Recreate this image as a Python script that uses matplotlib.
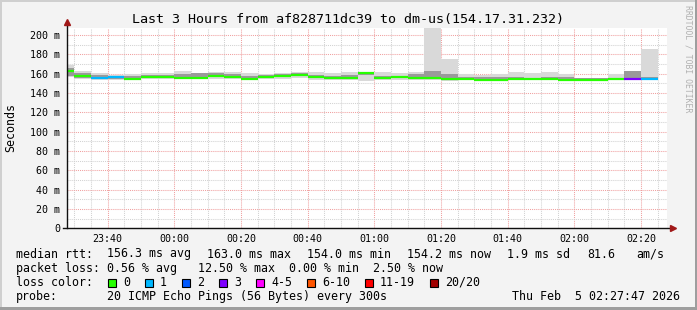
import numpy as np
import pandas as pd
import matplotlib
matplotlib.use('Agg')
from matplotlib import pyplot as plt
from matplotlib import ticker
import matplotlib.dates as mdates
import matplotlib.patches as mpatches
import matplotlib.lines as mlines

plt.rcParams['font.family'] = 'DejaVu Sans Mono'

# 5 minute bins (start of each step), last 3 hours
bin_start = pd.date_range('2026-02-04 23:25', periods=36, freq='5min')

# median rtt per step (ms)
median_ms = [163.0, 157.8, 155.4, 156.5, 154.4, 156.5, 156.5, 155.9, 155.9, 157.8,
             156.9, 154.4, 156.5, 157.8, 158.7, 156.5, 155.9, 155.9, 161.0, 155.0,
             156.5, 155.9, 155.9, 154.8, 154.8, 153.9, 153.9, 154.8, 154.8, 154.8,
             153.9, 153.9, 153.9, 154.8, 154.8, 154.2]
# lost pings out of 20
loss_pings = [0, 0, 1, 1, 0, 0, 0, 0, 0, 0,
              0, 0, 0, 0, 0, 0, 0, 0, 0, 0,
              0, 0, 0, 0, 0, 0, 0, 0, 0, 0,
              0, 0, 0, 0, 3, 1]
# smoke: full spread of the pings
smoke_lo = [156.5, 154.8, 153.4, 153.4, 153.4, 154.8, 154.8, 154.0, 154.0, 154.5,
            154.0, 153.2, 154.0, 154.5, 155.0, 153.8, 153.5, 153.4, 152.3, 153.4,
            153.4, 153.5, 153.0, 152.5, 153.4, 152.0, 153.0, 154.0, 154.0, 153.8,
            152.8, 153.4, 153.0, 154.0, 154.0, 153.0]
smoke_hi = [169.0, 163.0, 160.4, 158.6, 159.6, 160.4, 160.5, 163.0, 161.0, 161.5,
            162.0, 161.0, 160.0, 161.0, 162.0, 161.5, 160.5, 161.4, 162.0, 161.4,
            160.4, 161.4, 208.0, 175.0, 159.6, 158.6, 159.6, 161.4, 160.4, 162.0,
            159.6, 155.9, 155.5, 159.6, 162.7, 185.5]
# smoke: inner (darker) part of the spread
core_lo = [158.0, 155.8, 154.2, 154.6, 153.8, 155.6, 155.6, 154.8, 154.8, 156.4,
           155.6, 153.8, 155.4, 156.4, 157.4, 155.4, 154.8, 154.6, 158.5, 154.2,
           155.6, 154.8, 154.8, 154.0, 154.0, 153.2, 153.4, 154.2, 154.2, 154.0,
           153.4, 153.6, 153.4, 154.2, 154.3, 153.6]
core_hi = [166.0, 161.0, 158.5, 157.5, 158.0, 158.5, 159.0, 160.0, 160.5, 161.0,
           159.5, 158.0, 158.5, 159.5, 161.0, 158.5, 158.0, 159.0, 162.0, 157.5,
           158.0, 159.5, 163.0, 160.0, 157.0, 156.5, 157.0, 156.5, 156.0, 157.0,
           156.5, 155.0, 155.0, 156.0, 162.7, 157.0]

loss_labels = ['0', '1', '2', '3', '4-5', '6-10', '11-19', '20/20']
loss_limits = [0, 1, 2, 3, 5, 10, 19, 20]
loss_colors = ['#26ff00', '#00b8ff', '#0059ff', '#7e00ff', '#ff00ff', '#ff5500', '#ff0000', '#a10000']

title = 'Last 3 Hours from af828711dc39 to dm-us(154.17.31.232)'
rtt_line = [('median rtt:', 16), ('156.3 ms avg', 107), ('163.0 ms max', 207), ('154.0 ms min', 307),
            ('154.2 ms now', 407), ('1.9 ms sd', 507), ('81.6', 587), ('am/s', 636)]
loss_line = [('packet loss:', 16), ('0.56 % avg', 107), ('12.50 % max', 198), ('0.00 % min', 289),
             ('2.50 % now', 373)]
probe_text = '20 ICMP Echo Pings (56 Bytes) every 300s'
stamp_text = 'Thu Feb  5 02:27:47 2026'

W, H = 697, 310
def fx(px):
    return px / W
def fy(py):
    return 1 - py / H

fig = plt.figure(figsize=(W / 100, H / 100), dpi=100, facecolor='#f3f3f3')
ax = fig.add_axes([fx(67), fy(228.3), 600 / W, 200 / H])
ax.set_facecolor('white')

x = mdates.date2num(bin_start)
w = 5 / 1440.0
lo = np.array(smoke_lo); hi = np.array(smoke_hi)
clo = np.array(core_lo); chi = np.array(core_hi)
ax.bar(x, hi - lo, bottom=lo, width=w, align='edge', color='#d9d9d9', lw=0, zorder=2)
ax.bar(x, chi - clo, bottom=clo, width=w, align='edge', color='#9a9a9a', lw=0, zorder=3)

def loss_color(n):
    for lim, c in zip(loss_limits, loss_colors):
        if n <= lim:
            return c
    return loss_colors[-1]

ax.hlines(median_ms, x, x + w, colors=[loss_color(n) for n in loss_pings], lw=1.6, zorder=4)

t0 = mdates.date2num(pd.Timestamp('2026-02-04 23:27:47'))
t1 = mdates.date2num(pd.Timestamp('2026-02-05 02:27:47'))
ax.set_xlim(t0, t1)
ax.set_ylim(0, 206.9)

ax.xaxis.set_major_locator(mdates.MinuteLocator(byminute=[0, 20, 40]))
ax.xaxis.set_minor_locator(mdates.MinuteLocator(byminute=range(0, 60, 5)))
ax.xaxis.set_major_formatter(mdates.DateFormatter('%H:%M'))
ax.yaxis.set_major_locator(ticker.MultipleLocator(20))
ax.yaxis.set_minor_locator(ticker.MultipleLocator(10))
ax.yaxis.set_major_formatter(ticker.FuncFormatter(lambda v, p: '0' if v == 0 else '%d m' % v))

ax.set_axisbelow(True)
ax.grid(which='major', color='#f0a0a0', ls=(0, (1, 1)), lw=0.75)
ax.grid(which='minor', color='#d2d2d2', ls=(0, (1, 1)), lw=0.75)
for s in ax.spines.values():
    s.set_visible(False)
ax.tick_params(which='both', length=0, labelsize=7.2, colors='black')
ax.tick_params(axis='y', pad=5)
ax.tick_params(axis='x', pad=4)

# axes with arrows
ax.plot([-4 / 600, 1 + 4 / 600], [0, 0], transform=ax.transAxes, color='#101010', lw=1.0, clip_on=False, zorder=6)
ax.plot([0, 0], [0, 1 + 4 / 200], transform=ax.transAxes, color='#101010', lw=1.0, clip_on=False, zorder=6)
ax.plot([1 + 6 / 600], [0], marker='>', ms=4.5, color='#a01818', transform=ax.transAxes, clip_on=False, zorder=7)
ax.plot([0], [1 + 6 / 200], marker='^', ms=4.5, color='#a01818', transform=ax.transAxes, clip_on=False, zorder=7)

fig.text(fx(11), fy(127), 'Seconds', rotation=90, ha='center', va='center', fontsize=8.4)
fig.text(fx(348.5), fy(19), title, ha='center', va='center', fontsize=9.6)
fig.text(fx(688), fy(5), 'RRDTOOL / TOBI OETIKER', rotation=270, ha='center', va='top',
         fontsize=5.9, color='#b0b0b0')

# legend block
fs = 8.4
for txt, px in rtt_line:
    fig.text(fx(px), fy(254), txt, ha='left', va='center', fontsize=fs)
for txt, px in loss_line:
    fig.text(fx(px), fy(268.3), txt, ha='left', va='center', fontsize=fs)
fig.text(fx(16), fy(282.3), 'loss color:', ha='left', va='center', fontsize=fs)
bx = 108
for lab, col in zip(loss_labels, loss_colors):
    fig.patches.append(mpatches.Rectangle((fx(bx), fy(286.5)), 8 / W, 8 / H, transform=fig.transFigure,
                                          facecolor=col, edgecolor='black', lw=0.8))
    fig.text(fx(bx + 15), fy(282.3), lab, ha='left', va='center', fontsize=fs)
    bx += 30 + 7 * len(lab)
fig.text(fx(16), fy(296.7), 'probe:', ha='left', va='center', fontsize=fs)
fig.text(fx(107), fy(296.7), probe_text, ha='left', va='center', fontsize=fs)
fig.text(fx(680), fy(296.7), stamp_text, ha='right', va='center', fontsize=fs)

# 3d-ish frame
fig.patches.append(mpatches.Rectangle((0, 1 - 2 / H), 1, 2 / H, transform=fig.transFigure, color='#cfcfcf', lw=0))
fig.patches.append(mpatches.Rectangle((0, 0), 2 / W, 1, transform=fig.transFigure, color='#cfcfcf', lw=0))
fig.patches.append(mpatches.Rectangle((0, 0), 1, 3 / H, transform=fig.transFigure, color='#9e9e9e', lw=0))
fig.patches.append(mpatches.Rectangle((1 - 2 / W, 0), 2 / W, 1, transform=fig.transFigure, color='#9e9e9e', lw=0))

plt.savefig('out.png', dpi=100, facecolor=fig.get_facecolor())
plt.close()
